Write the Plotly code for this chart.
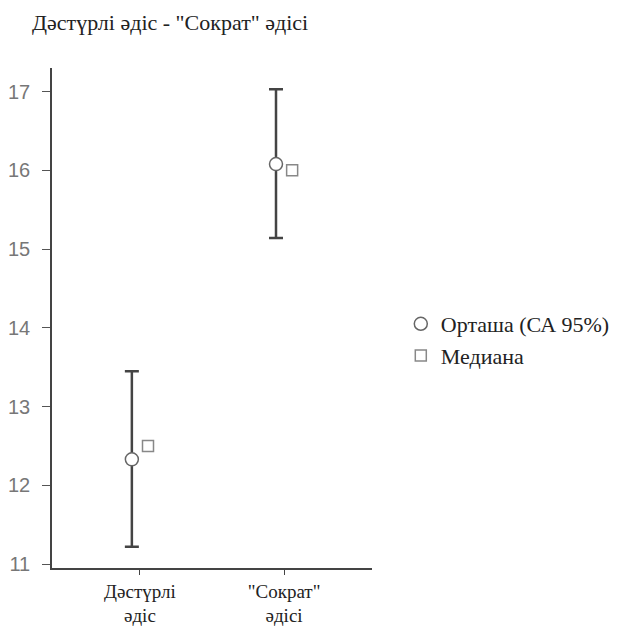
import plotly.graph_objects as go

categories = ["Дәстүрлі<br>әдіс", "\"Сократ\"<br>әдісі"]
means = [12.33, 16.08]
ci_low = [11.22, 15.14]
ci_high = [13.45, 17.03]
medians = [12.5, 16.0]
y_ticks = [11, 12, 13, 14, 15, 16, 17]

xpos = list(range(len(categories)))
off = 0.056
SERIF = "Liberation Serif"

fig = go.Figure()
fig.add_trace(go.Scatter(
    x=[p - off for p in xpos], y=means, mode="markers",
    name="Орташа (СА 95%)",
    marker=dict(symbol="circle", size=13, color="white", line=dict(color="#666666", width=1.5)),
    error_y=dict(type="data", symmetric=False,
                 array=[h - m for h, m in zip(ci_high, means)],
                 arrayminus=[m - l for m, l in zip(means, ci_low)],
                 color="#444444", thickness=2.5, width=7),
))
fig.add_trace(go.Scatter(
    x=[p + off for p in xpos], y=medians, mode="markers",
    name="Медиана",
    marker=dict(symbol="square", size=11, color="white", line=dict(color="#888888", width=1.5)),
))

fig.update_layout(
    width=617, height=634,
    margin=dict(l=52, r=245, t=68, b=66, autoexpand=False),
    plot_bgcolor="white", paper_bgcolor="white",
    title=dict(text="Дәстүрлі әдіс - \"Сократ\" әдісі", x=32/617, xanchor="left",
               y=1 - 22/634, yanchor="middle",
               font=dict(family=SERIF, size=22, color="#222222")),
    legend=dict(x=1.09, y=0.53, xanchor="left", yanchor="top",
                font=dict(family=SERIF, size=22, color="#222222"),
                itemwidth=30, tracegroupgap=0),
    showlegend=True,
)
fig.update_xaxes(range=[-0.61, 1.61], tickmode="array", tickvals=xpos, ticktext=categories,
                 automargin=False,
                 showline=True, linecolor="#444444", linewidth=1.5, showgrid=False, zeroline=False,
                 ticks="outside", ticklen=5, tickcolor="#444444", ticklabelstandoff=0,
                 tickfont=dict(family=SERIF, size=19, color="#222222"))
fig.update_yaxes(range=[10.95, 17.3], tickmode="array", tickvals=y_ticks, automargin=False,
                 showline=True, linecolor="#444444", linewidth=1.5, showgrid=False, zeroline=False,
                 ticks="outside", ticklen=8, tickcolor="#555555", ticklabelstandoff=8,
                 tickfont=dict(family="Liberation Sans", size=20, color="#777777"))

fig.write_html("out.html")
